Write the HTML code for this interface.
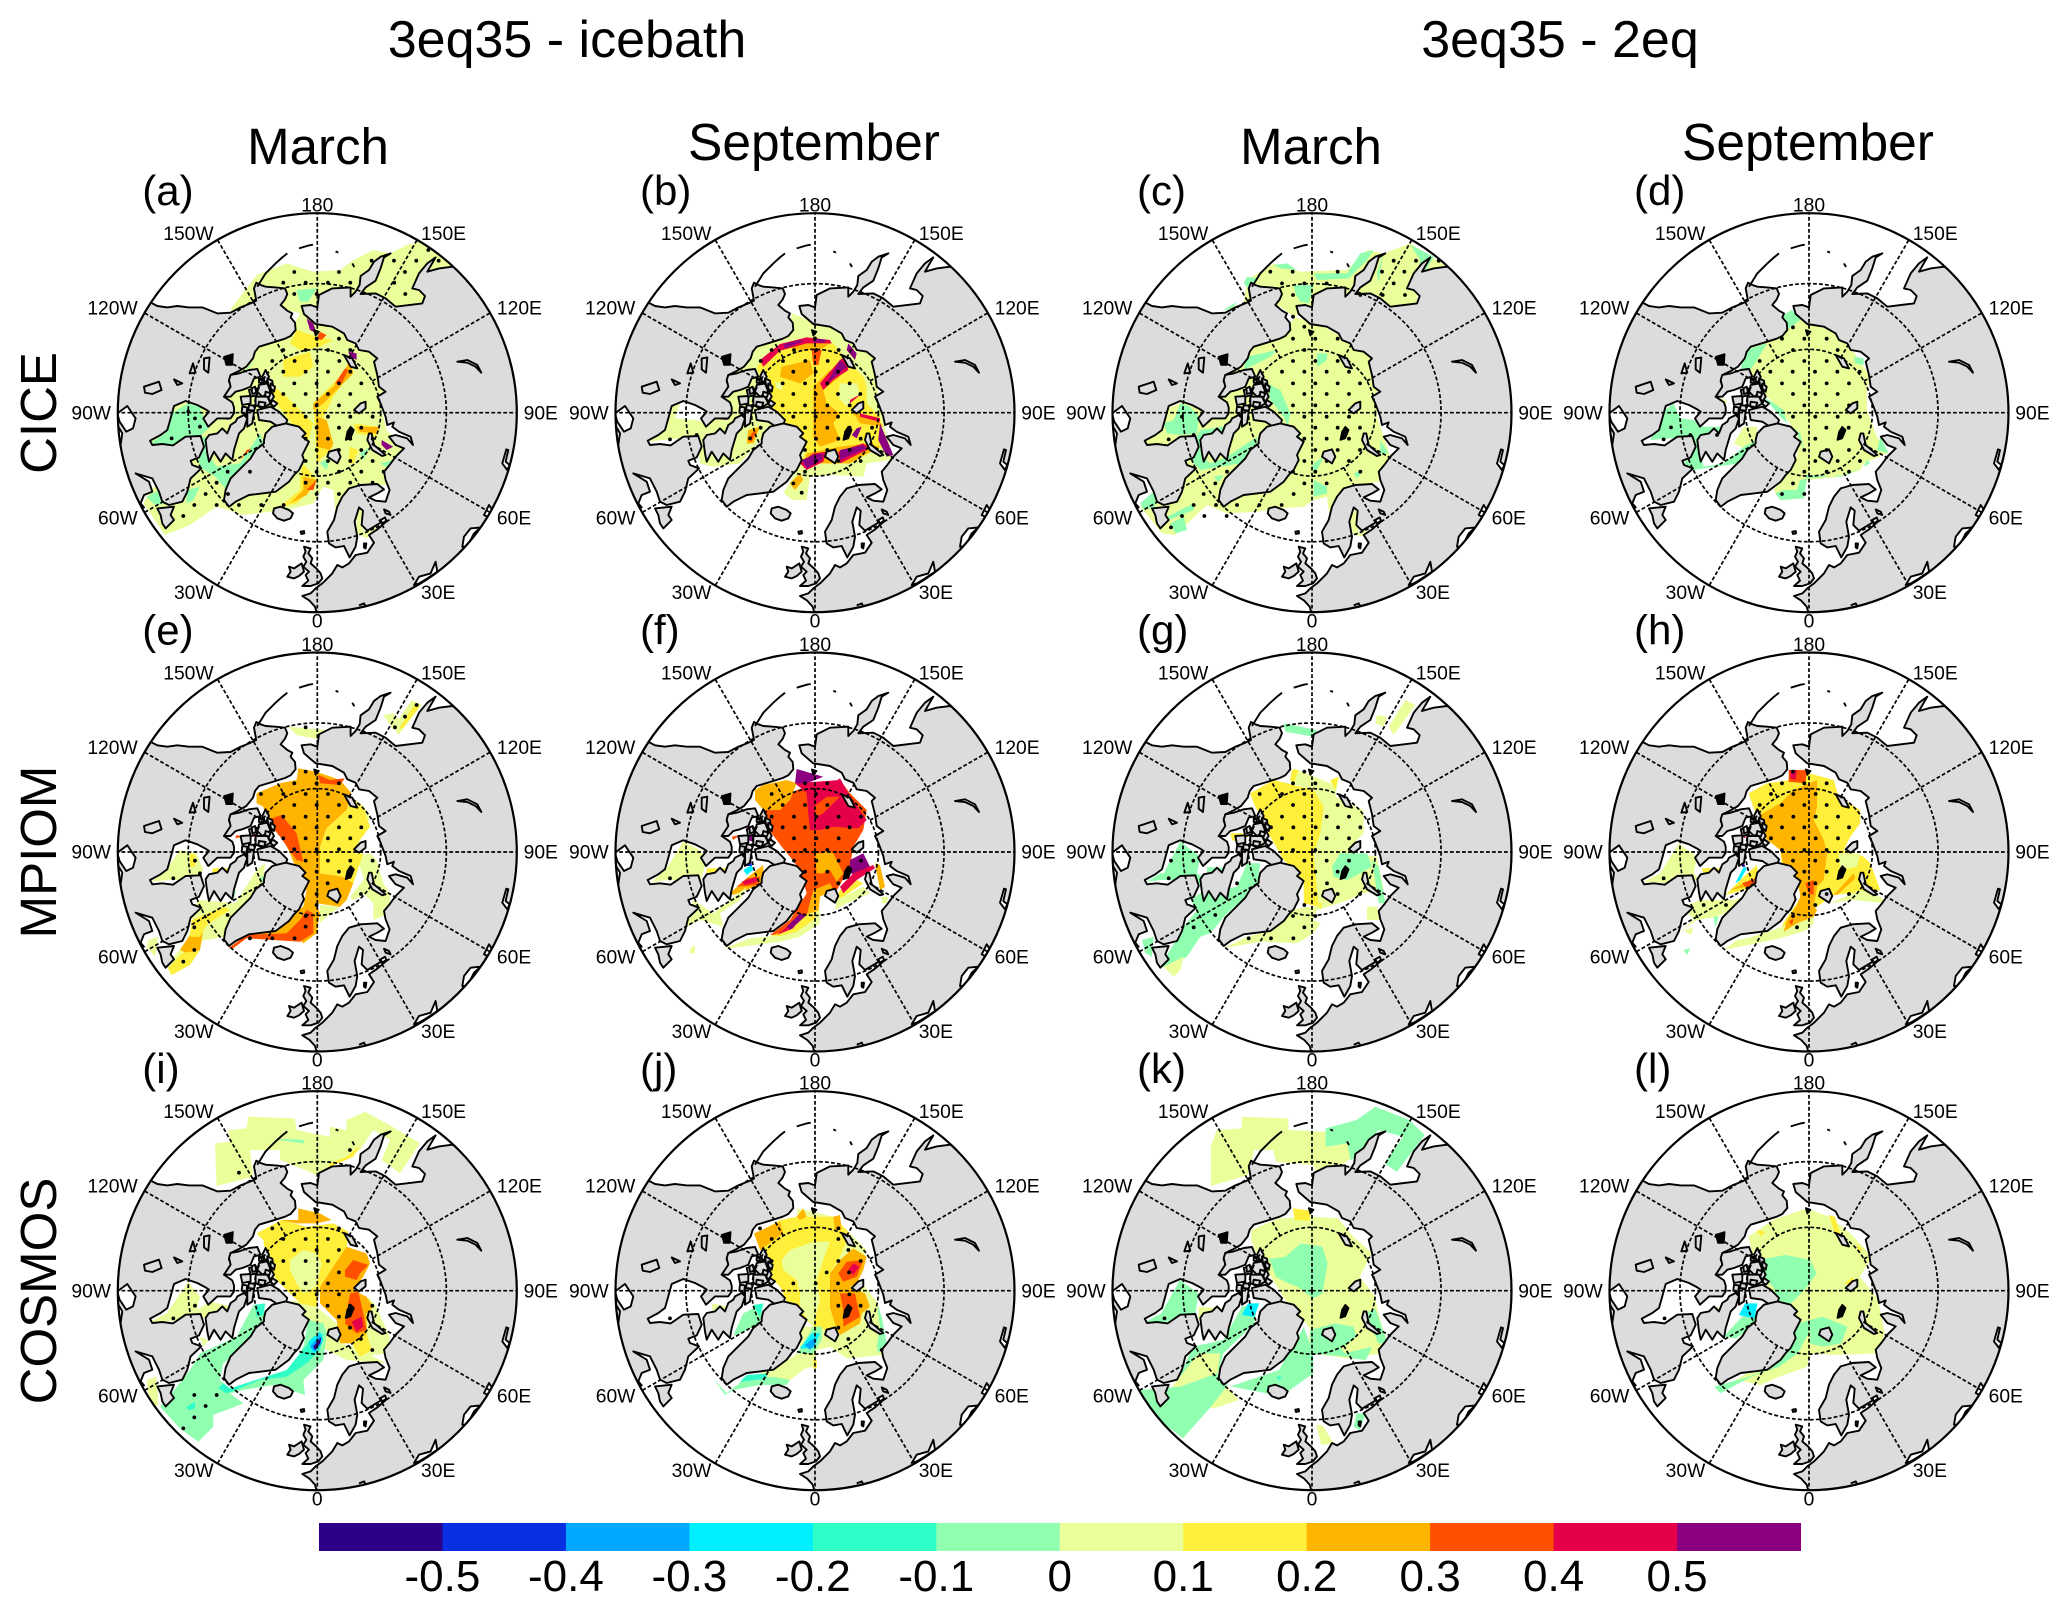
<!DOCTYPE html>
<html lang="en">
<head>
<meta charset="utf-8">
<title>Arctic sea ice differences</title>
<style>
html,body{margin:0;padding:0;background:#fff;width:2067px;height:1611px;overflow:hidden}
svg{display:block;font-family:"Liberation Sans",Arial,sans-serif}
</style>
</head>
<body>
<svg id="figure" xmlns="http://www.w3.org/2000/svg" width="2067" height="1611" viewBox="0 0 2067 1611">
<rect width="2067" height="1611" fill="#fff"/>
<text x="567" y="57" font-size="52" text-anchor="middle">3eq35 - icebath</text>
<text x="1560" y="57" font-size="52" text-anchor="middle">3eq35 - 2eq</text>
<text x="318" y="164" font-size="51" text-anchor="middle">March</text>
<text x="814" y="160" font-size="51.5" text-anchor="middle">September</text>
<text x="1311" y="164" font-size="51" text-anchor="middle">March</text>
<text x="1808" y="160" font-size="51.5" text-anchor="middle">September</text>
<text transform="translate(56,413) rotate(-90)" font-size="51" text-anchor="middle">CICE</text>
<text transform="translate(56,852) rotate(-90)" font-size="51" text-anchor="middle">MPIOM</text>
<text transform="translate(56,1291) rotate(-90)" font-size="51" text-anchor="middle">COSMOS</text>
</svg>
<script>
// ---------- colour scale ----------
const levelColors=['#2b0087','#0a2fe0','#00a8ff','#00f0ff','#2effc8','#90ffb0','#eaff9a','#ffee3a','#ffb400','#ff5000','#e6004a','#8a0080'];
const colorbarTicks=[-0.5,-0.4,-0.3,-0.2,-0.1,0,0.1,0.2,0.3,0.4,0.5];
const colorbarLabels=['-0.5','-0.4','-0.3','-0.2','-0.1','0','0.1','0.2','0.3','0.4','0.5'];
// ---------- map axis ----------
const gridLats=[75,60];
const edgeLat=45;
const tickLons=[0,30,60,90,120,150,180,-150,-120,-90,-60,-30];
const tickLabels=['0','30E','60E','90E','120E','150E','180','150W','120W','90W','60W','30W'];
const panelLetters=['a','b','c','d','e','f','g','h','i','j','k','l'];
// ---------- land, in map units (origin 645,728) ----------
const landAreas=[
[0,395,140,395,165,408,195,412,225,408,260,412,300,412,345,430,385,428,415,412,445,400,462,392,455,355,462,338,475,345,490,350,520,352,548,355,555,372,548,388,535,405,555,422,570,430,565,442,578,458,580,480,565,498,548,506,510,518,470,530,458,545,452,565,432,590,410,603,385,615,380,635,390,655,365,680,390,697,395,712,395,730,385,745,345,745,318,770,303,745,320,725,310,718,285,705,250,693,215,708,205,745,195,780,175,795,143,812,150,825,180,822,212,826,250,800,295,798,305,830,290,862,265,872,270,885,297,895,265,925,255,965,240,995,200,1005,180,995,170,965,150,925,100,910,140,935,150,965,125,975,115,1000,125,1012,0,1012],
[165,1015,215,1010,205,1035,215,1050,190,1075,180,1060,175,1035],
[405,745,425,735,435,745,425,775,410,790,395,840,390,870,370,850,355,875,335,845,320,875,315,850,310,810,320,795,345,790,360,775,375,790,385,765,400,755],
[385,615,410,610,440,600,465,597,475,620,455,625,445,650,420,660,400,665,385,680,365,680,385,650,380,630],
[470,645,495,640,505,665,480,680,465,665],
[415,680,445,678,445,700,420,705],
[460,680,495,680,505,700,480,715,460,705],
[505,660,515,680,505,695,495,680],
[435,720,455,725,450,760,435,770],
[465,720,505,710,530,725,555,750,550,765,525,768,505,755,470,750],
[480,620,490,600,500,620,490,640],
[440,660,462,655,465,675,445,680],
[448,655,458,650,462,668,450,672],
[470,625,485,628,482,640,470,638],
[495,625,510,632,512,650,498,645],
[490,665,505,670,500,682,488,678],
[510,690,525,700,515,710,505,702],
[440,705,460,708,455,722,438,720],
[420,710,435,712,432,735,418,728],
[470,695,490,698,485,712,468,708],
[505,640,518,650,515,665,505,655],
[485,810,490,790,510,770,550,760,590,770,610,790,600,800,620,815,600,855,605,870,590,900,575,915,560,935,540,950,520,965,480,970,440,975,400,995,380,1010,365,990,370,960,385,925,405,905,430,880,445,865,460,840,485,820],
[515,1015,535,1010,560,1020,572,1030,565,1045,545,1052,525,1045,512,1030],
[645,1400,645,1335,638,1310,622,1292,600,1278,625,1270,640,1255,660,1240,690,1210,705,1185,720,1192,740,1180,760,1155,795,1148,815,1118,800,1095,825,1078,855,1052,835,1058,795,1082,778,1065,782,1022,770,1012,757,1055,765,1100,760,1130,742,1162,725,1128,700,1132,680,1120,675,1085,695,1050,705,1010,720,980,740,955,775,945,825,942,845,958,825,970,800,982,820,992,850,995,862,960,850,930,845,905,862,885,880,860,905,835,880,825,860,800,880,795,915,805,932,825,925,800,890,785,870,770,875,757,855,765,850,740,835,700,825,680,850,665,830,650,825,615,815,575,825,565,800,545,770,540,760,520,735,510,725,490,690,470,640,462,605,432,598,408,625,405,645,412,650,375,690,355,745,352,745,380,760,365,772,345,775,318,800,300,815,275,835,260,865,250,845,262,835,295,820,332,790,352,775,372,820,370,850,385,880,410,960,400,968,378,950,360,930,355,950,310,975,280,1000,262,975,305,1010,295,1050,290,1090,310,1300,310,1300,1400],
[605,1130,625,1135,618,1150,630,1165,625,1180,642,1195,655,1210,660,1225,648,1240,625,1248,600,1248,618,1232,610,1215,620,1205,603,1190,612,1175,603,1160,610,1145],
[560,1190,575,1195,598,1180,605,1205,590,1218,575,1225,555,1220,565,1205],
[800,790,795,810,810,840,840,858,850,855,815,825,808,790],
[680,845,705,838,715,860,705,880,690,870,675,860],
[755,720,775,700,790,695,790,715,770,730],
[725,555,750,565,765,595,745,590],
[595,1085,605,1083,606,1090,597,1092],
[785,1120,792,1120,790,1135,785,1132],
[845,1018,860,1025,865,1035,850,1030],
[125,650,170,635,178,660,150,672,128,668],
[215,628,240,640,225,645],
[305,565,322,562,318,608,305,598],
[262,610,272,580,280,608]
];
const darkIslands=[
[745,770,755,780,745,805,730,810,735,785],
[635,480,650,485,640,497],
[365,560,392,552,390,585,372,585]
];
const lakeAreas=[
[75,708,100,745,92,775,72,785,52,755,45,730],
[45,765,60,790,55,825,45,800],
[1065,575,1095,570,1125,585,1137,608,1120,590,1095,578],
[1212,838,1200,880,1215,900,1222,885,1210,875,1218,840],
[1080,1130,1085,1100,1105,1075,1135,1072,1115,1090,1095,1130],
[935,1245,950,1220,985,1210,1000,1175,1005,1205,975,1225,950,1240],
[1145,1035,1160,1005,1170,1020,1155,1040],
[835,1050,848,1042,852,1052,840,1060]
];
const coastLines=[
[465,350,490,310,520,280,540,262,555,250],
[590,235,620,226,632,224],
[700,244,708,248],
[750,280,756,291],
[770,1306,785,1300,792,1312]
];
// ---------- shaded differences per panel: [colour level, outline in map units]; level -1 = no data ----------
const fieldsA=[
[6,[600,430,700,460,770,530,840,560,860,640,840,700,860,780,910,830,880,880,865,945,780,945,725,975,708,1050,700,960,670,950,640,1000,560,1020,430,1035,350,1010,270,1065,195,1095,130,1000,150,960,260,880,290,840,140,820,200,695,320,700,360,720,370,650,400,590,470,530,560,500]],
[6,[390,420,470,315,560,280,640,305,720,300,760,270,820,240,870,250,920,225,960,215,1060,290,980,300,980,420,800,400,640,440,560,420,440,430]],
[6,[770,1015,790,1020,790,1085,830,1070,840,1080,800,1105,770,1090]],
[6,[1085,1130,1095,1075,1140,1070,1110,1120]],
[5,[590,360,650,355,625,395,600,395]],
[5,[265,700,300,710,310,740,330,770,300,800,210,825,150,820,195,790,205,735]],
[5,[310,800,340,800,330,860,350,890,420,880,440,850,480,790,490,820,440,870,380,960,345,920,300,890,290,830]],
[5,[260,960,300,950,280,990,260,1000]],
[5,[140,980,180,960,210,1000,165,1005]],
[5,[470,570,440,600,420,620,445,590]],
[5,[660,880,690,860,680,900]],
[5,[780,850,810,830,790,870]],
[5,[840,880,880,870,860,890]],
[7,[550,570,630,545,640,590,600,620,550,620]],
[7,[510,640,560,680,640,760,620,830,575,760,530,700]],
[7,[640,700,680,660,740,600,760,560,745,620,700,680,670,740,700,830,650,880,645,780]],
[7,[590,480,650,500,700,510,660,530,600,540,570,520]],
[7,[760,760,830,770,830,800,770,790]],
[7,[750,830,775,840,760,880,745,880]],
[7,[610,880,650,930,620,970,590,1000,540,1010,600,960,600,920]],
[8,[640,700,700,650,735,600,750,570,760,610,700,670,670,700,640,720]],
[8,[650,740,680,750,700,820,690,840,650,830]],
[8,[610,920,650,930,620,975,570,1000,610,960]],
[8,[770,770,840,770,830,790,780,785]],
[9,[705,640,735,595,745,600,725,640]],
[9,[620,960,650,930,640,960]],
[9,[440,840,455,835,420,870]],
[9,[660,485,680,495,665,510,650,505]],
[10,[575,770,600,785,610,795,585,785]],
[11,[620,445,640,460,650,490,630,480]],
[11,[745,545,770,550,770,570,750,560]],
[11,[845,810,880,830,860,840,845,825]],
[11,[365,740,395,740,385,750,365,745]]
];
const fieldsB=[
[6,[575,430,640,455,700,470,760,520,830,570,830,640,850,760,880,860,870,870,800,880,790,920,700,915,630,920,620,990,580,990,550,970,590,900,600,800,500,770,490,800,420,880,340,890,300,880,290,800,140,815,200,710,240,695,260,740,320,760,370,730,370,660,410,600,460,530,570,490]],
[-1,[225,745,240,700,280,715,285,750]],
[7,[470,590,500,560,640,500,700,520,740,570,790,620,800,650,800,700,840,740,850,830,800,850,720,880,640,880,600,880,620,840,600,790,560,760,510,710,490,640]],
[6,[720,640,770,640,780,670,740,710,715,680]],
[6,[525,635,550,640,545,660,530,655]],
[8,[545,590,630,570,640,610,600,640,540,620]],
[8,[640,650,690,600,720,620,670,660,680,700,720,730,700,760,720,810,660,830,640,800,640,740,640,700]],
[8,[560,530,640,510,690,520,660,540,600,540]],
[8,[620,850,720,830,800,820,840,830,750,880,650,880,610,890]],
[8,[760,730,830,740,850,770,780,760]],
[8,[570,940,600,910,610,930,585,960]],
[8,[445,780,480,770,460,820,440,820]],
[10,[480,570,540,522,620,502,690,510,695,520,620,520,540,542,490,590]],
[11,[550,522,600,510,610,514,555,535]],
[11,[640,504,680,510,670,518,640,516]],
[9,[635,540,665,540,655,585,640,585]],
[10,[660,640,720,570,735,560,745,600,700,630,670,660]],
[11,[680,640,720,570,740,590,700,625]],
[11,[745,520,770,550,765,570,740,540]],
[10,[600,880,640,850,680,845,670,875,620,900]],
[11,[605,870,640,855,670,850,665,870,620,895]],
[10,[715,845,790,820,810,835,740,870,720,880]],
[11,[720,840,790,825,800,835,740,860,720,870]],
[11,[840,760,880,855,860,860,835,810]],
[11,[770,775,785,770,770,805,755,795]],
[10,[780,730,840,745,840,755,780,740]],
[10,[750,690,785,670,750,700]],
[9,[455,790,470,780,455,815,445,810]],
[11,[360,740,390,745,380,750,362,748]],
[3,[440,680,450,680,445,700]]
];
const fieldsC=[
[6,[585,440,680,475,740,510,820,570,830,650,830,740,860,830,870,860,860,930,780,945,715,980,690,1060,680,980,640,990,610,1010,540,1015,470,1025,380,1030,320,1005,225,1095,185,1090,120,1010,150,980,240,950,260,880,270,840,130,820,190,720,250,695,310,720,350,730,360,650,380,610,440,540,540,500]],
[6,[370,420,430,400,440,330,520,280,600,305,740,300,800,240,850,250,930,220,1040,290,950,300,950,400,860,410,740,380,640,410,580,440,540,410,480,400]],
[6,[745,1050,770,1010,775,1090,800,1080,800,1100,760,1095]],
[6,[1070,1130,1090,1075,1115,1075,1075,1130]],
[5,[580,345,640,345,625,400,600,395,585,370]],
[5,[430,340,440,320,470,325,450,360]],
[5,[520,285,560,280,590,300,540,295]],
[5,[640,310,740,310,780,250,820,240,800,270,745,325,650,330]],
[5,[850,250,840,300,835,340,830,310]],
[5,[930,225,1000,260,960,330,950,320,960,270]],
[5,[370,420,410,395,400,410,380,420]],
[5,[440,560,530,540,510,560,450,590,430,600]],
[5,[500,640,540,660,570,730,560,780,600,800,605,830,570,790,550,740,510,690]],
[5,[650,550,680,550,680,570,650,590]],
[5,[640,880,670,860,650,900,630,900]],
[5,[640,930,680,950,680,970,640,980]],
[5,[760,910,790,900,770,925]],
[5,[840,810,865,850,840,850]],
[5,[240,700,270,710,295,740,290,790,240,795,200,790,190,760,220,750]],
[5,[280,810,300,780,370,770,380,800,330,800,300,850,330,880,380,860,470,800,470,830,420,880,300,900,270,870]],
[5,[340,920,370,915,355,935]],
[5,[120,1000,165,960,165,1010,130,1020]],
[5,[210,1060,250,1040,260,1080,225,1090]],
[5,[280,1000,200,1040,205,1050,280,1020]],
[10,[428,730,434,730,432,738]]
];
const fieldsD=[
[6,[570,420,620,460,720,490,770,560,810,620,800,660,800,720,830,800,860,850,790,880,780,900,720,920,620,930,610,985,540,990,520,960,590,860,590,790,540,720,500,680,450,610,430,540,520,490]],
[6,[400,820,430,770,470,770,470,810,440,840]],
[6,[340,680,380,690,360,740,340,745]],
[5,[540,440,575,420,600,450,560,480]],
[5,[435,540,500,520,470,570,450,600,420,600]],
[5,[490,680,550,720,560,760,600,790,610,840,590,790,540,740]],
[5,[610,915,720,920,790,890,800,870,810,880,740,915,620,925]],
[5,[525,970,540,990,610,985,620,925,600,930,590,960,550,960]],
[5,[840,800,865,850,830,840]],
[5,[220,700,240,745,280,750,300,770,340,770,370,770,360,800,330,800,300,850,310,890,370,880,430,830,470,810,460,840,420,880,310,895,280,900,250,880,290,830,270,800,150,810,170,770,180,730]],
[5,[760,560,790,565,790,585,765,580]]
];
const fieldsE=[
[6,[770,710,810,700,830,720,850,790,870,820,870,880,820,900,820,850,790,820,790,770]],
[6,[790,555,810,590,800,620,780,580]],
[6,[750,830,790,780,800,820,760,840]],
[6,[660,855,720,860,680,890,660,910]],
[8,[595,445,650,455,720,480,755,520,740,570,680,625,660,680,660,760,730,770,760,790,740,840,720,860,650,850,660,880,650,940,610,970,600,960,560,960,440,950,610,860,620,810,590,750,570,700,540,640,500,600,490,560,470,550,470,520,540,490,590,480]],
[7,[680,625,740,570,755,530,790,560,810,620,780,660,760,700,790,700,780,730,760,790,730,770,660,760,660,680]],
[9,[500,600,545,585,590,640,610,725,590,720,575,700,540,650]],
[9,[620,870,640,880,640,940,600,965,440,955,400,985,385,985,440,945,560,940,600,900]],
[9,[655,465,690,480,735,475,720,495,660,490]],
[10,[455,620,465,620,470,650,455,650]],
[9,[410,645,430,650,405,655]],
[6,[400,860,470,750,495,730,490,790,440,860,410,870]],
[5,[370,900,385,895,370,915]],
[5,[390,830,410,810,400,840]],
[5,[480,770,495,770,490,795]],
[6,[280,910,320,880,400,860,420,870,375,950,320,960,310,960,265,1030,215,1065,200,1040,260,960]],
[6,[265,870,300,840,410,850,450,830,430,870,375,905,370,940,310,960]],
[8,[240,990,280,930,310,930,300,990,260,1000]],
[7,[205,1045,245,1000,300,990,270,1035,215,1065]],
[7,[275,900,370,860,390,870,320,915,300,950,270,950]],
[6,[240,690,290,700,310,750,290,780,210,780,155,785,205,740]],
[7,[270,700,285,705,285,740,270,740]],
[7,[340,745,395,745,370,760,335,760]],
[6,[145,960,175,950,165,1010,140,980]],
[6,[565,320,680,330,665,360,590,345]],
[6,[850,285,880,280,900,300,880,330]],
[6,[880,320,935,240,965,255,895,345]],
[7,[900,320,945,250,960,258,905,330]]
];
const fieldsF=[
[9,[480,580,590,510,720,480,750,520,800,570,790,630,760,680,750,740,700,830,680,800,640,860,650,880,640,900,600,910,540,945,510,945,570,900,620,820,600,750,570,710,545,680,500,620]],
[8,[465,510,490,495,560,480,590,490,570,540,540,570,490,570,465,540]],
[8,[645,700,670,700,680,690,700,700,730,760,710,785,690,750,670,760,650,760]],
[8,[640,810,690,790,700,810,660,830,655,880,620,885]],
[10,[585,490,720,480,745,520,800,600,775,625,700,620,660,630,630,630,625,580,620,520]],
[9,[640,560,680,530,720,530,670,580,650,590]],
[11,[590,447,670,470,620,490,585,490]],
[10,[700,490,720,475,745,520,720,520]],
[11,[750,720,790,700,810,740,770,765,750,760]],
[6,[705,870,710,840,790,800,810,820,740,850]],
[7,[705,840,720,810,770,780,790,790,730,830]],
[10,[720,800,760,760,820,735,825,745,770,780,730,820]],
[8,[825,730,840,735,855,800,840,810]],
[6,[845,830,865,830,860,850,845,850]],
[6,[505,950,550,935,600,890,660,870,660,910,600,950,540,965,390,985,375,985,450,955]],
[7,[515,948,560,930,610,885,650,880,640,900,590,935,540,948]],
[10,[530,945,600,890,580,925]],
[11,[560,920,600,880,620,885,570,930]],
[8,[390,820,445,770,490,735,490,790,400,825]],
[9,[410,800,440,775,480,770,475,795]],
[10,[425,785,470,770,470,785,435,795]],
[3,[430,750,455,735,460,750,440,765]],
[1,[440,738,452,720,456,738]],
[11,[440,615,460,620,465,660,510,640,520,670,470,670,445,660]],
[9,[395,650,420,645,400,660]],
[6,[200,745,250,665,300,690,320,720,300,790,210,780,155,785]],
[7,[320,745,385,745,370,770,320,780]],
[6,[260,920,280,840,340,880,440,800,420,840,360,880,370,920,300,900]],
[6,[270,985,285,975,285,1000,270,1000]]
];
const fieldsG=[
[6,[580,445,690,490,715,470,705,530,790,570,790,640,760,670,760,700,830,710,850,810,790,820,730,845,650,870,640,900,660,910,640,940,590,970,480,965,370,985,440,950,520,930,580,870,620,860,650,860,640,700,670,560,640,510,570,490,570,470]],
[7,[450,520,520,480,560,490,640,510,670,560,660,640,640,700,655,860,610,850,610,790,590,760,550,720,510,650,480,590,460,550]],
[7,[575,450,595,450,580,490,570,480]],
[7,[690,480,715,470,705,510]],
[7,[655,850,665,850,660,870]],
[5,[695,740,720,700,800,700,815,740,760,770,740,780,700,770]],
[5,[815,720,835,740,855,850,835,850]],
[6,[800,860,830,860,840,900,800,900]],
[5,[190,760,240,665,300,710,290,760,310,770,300,800,270,780,180,780,140,785,180,760]],
[5,[320,740,380,745,350,770,320,760]],
[5,[270,840,300,820,410,800,440,730,480,730,470,800,380,880,330,940,300,950,260,1010,200,1040,180,1040,250,920,290,870]],
[6,[190,1040,250,1010,240,1050,220,1070]],
[5,[125,960,160,950,155,1010,135,1000]],
[5,[550,310,650,330,640,350,555,335]],
[6,[830,285,860,290,850,320,825,310]],
[6,[865,320,915,240,945,255,880,345]],
[8,[435,620,445,650,430,655]],
[7,[390,640,430,640,420,670,395,660]],
[8,[470,660,500,655,490,680]]
];
const fieldsH=[
[7,[445,520,500,490,570,480,625,460,700,480,715,530,780,570,780,610,750,650,730,690,790,710,810,730,840,810,700,825,650,860,600,880,550,935,530,945,555,900,610,820,590,770,545,740,540,690,490,650,470,590,455,550]],
[8,[470,590,540,550,580,510,650,480,650,560,640,600,670,660,680,700,670,780,650,800,640,860,610,880,575,890,600,830,590,770,550,740,540,690,490,650]],
[6,[715,700,780,700,770,740,720,750]],
[6,[690,850,780,810,840,830,855,850,760,840]],
[6,[440,955,520,930,640,880,640,910,620,930,540,955,370,990,410,960]],
[8,[700,825,760,760,765,775,710,825]],
[8,[560,900,610,825,650,870,640,890,590,910,550,935]],
[9,[615,790,640,780,640,825,625,820]],
[9,[565,905,580,895,575,915]],
[9,[565,450,620,450,615,490,565,485]],
[10,[570,450,590,450,585,480,570,475]],
[7,[375,825,430,770,470,735,475,790,430,810]],
[8,[390,810,430,790,470,775,465,795]],
[9,[425,790,465,775,460,800,435,800]],
[3,[405,790,430,740,440,745,420,780]],
[0,[425,715,435,740,425,740]],
[10,[425,625,440,625,435,655,425,650]],
[9,[460,640,490,650,480,680,455,670]],
[6,[180,760,235,670,290,710,280,760,300,780,210,790,130,785]],
[7,[305,745,370,745,340,770,310,765]],
[6,[250,860,300,840,400,840,430,830,420,860,350,890,290,900,240,935,280,900]],
[5,[340,890,355,890,345,925]],
[6,[250,930,280,925,270,945]],
[5,[250,990,270,985,260,1005]]
];
const fieldsI=[
[6,[345,250,390,245,385,210,440,205,445,170,585,175,590,210,690,230,690,200,740,210,740,180,795,155,860,190,960,250,900,340,845,300,870,240,820,210,780,270,740,295,690,320,670,360,640,340,540,300,540,270,450,270,460,350,350,378]],
[5,[520,235,615,240,610,250,540,240]],
[7,[670,360,690,310,740,290,780,255,760,290,690,320]],
[6,[570,720,650,740,720,800,720,850,760,860,860,910,740,900,660,860,640,800]],
[6,[805,710,830,740,860,810,870,830,860,880,750,895,790,830]],
[7,[490,540,470,520,545,480,620,500,700,490,745,515,740,570,700,620,660,680,650,740,600,730,570,700,530,660,500,610]],
[6,[570,600,610,570,650,580,665,610,650,680,610,700,590,670,570,630]],
[8,[595,445,660,460,695,480,650,490,590,490,540,480,595,480]],
[8,[660,680,700,620,740,560,800,580,810,610,790,650,760,690,800,710,820,740,800,760,800,850,720,850,710,780,660,730]],
[7,[755,850,800,820,815,870,780,890]],
[9,[735,630,760,600,805,615,780,640,770,660,735,650]],
[9,[750,700,775,695,790,760,800,810,770,820,735,790]],
[10,[755,785,785,770,790,800,770,815]],
[5,[180,1040,215,1000,270,930,300,880,410,830,460,735,495,730,490,790,430,860,370,910,360,960,390,985,570,930,610,860,625,780,670,790,680,820,670,900,640,930,610,960,615,1005,570,990,520,975,430,990,390,1000,430,1030,340,1065,340,1100,295,1145,240,1105]],
[4,[370,970,390,985,560,930,600,880,640,830,670,820,660,870,620,910,560,950,480,960,420,985,380,1000,355,985]],
[3,[625,845,660,815,670,840,640,880]],
[2,[630,860,660,825,665,850,645,875]],
[0,[640,860,665,830,660,850,645,870]],
[4,[260,1040,285,1025,285,1045,265,1050]],
[4,[465,735,495,730,490,765,470,770]],
[6,[140,960,170,950,175,1035,165,1040,145,1000]],
[6,[200,760,265,665,300,710,290,750,330,725,400,740,390,770,330,770,290,780,150,785]],
[6,[300,830,325,840,310,860]]
];
const fieldsJ=[
[6,[590,445,640,455,700,470,750,520,800,570,770,650,810,700,835,730,855,850,850,885,740,895,690,860,650,870,640,920,600,930,570,960,520,970,480,940,600,880,600,800,640,800,700,810,650,690,620,700]],
[7,[490,600,470,520,540,480,590,470,700,470,750,520,720,590,690,640,700,680,690,750,720,820,680,810,640,800,620,780,600,760,570,745,540,680,500,640]],
[6,[545,600,570,570,640,545,690,545,670,600,650,660,660,720,640,800,600,750,600,700,590,660,550,630]],
[8,[462,520,540,485,550,520,515,545,480,570]],
[8,[590,470,610,445,620,470,600,480]],
[8,[700,470,720,465,725,510,705,510]],
[8,[570,730,590,735,585,750,570,745]],
[8,[690,640,720,600,760,565,800,590,790,630,770,670,750,680,795,700,810,740,785,760,780,790,720,825,705,790,690,745,690,690]],
[9,[715,640,740,605,790,600,770,650,730,665]],
[10,[745,630,760,610,778,620,760,645]],
[9,[720,700,765,700,780,770,730,800,730,750]],
[5,[400,825,430,760,490,730,480,790,410,825]],
[4,[460,735,490,730,480,770]],
[5,[340,955,380,1000,430,960,520,950,570,960,560,975,480,975,400,990,375,1005]],
[4,[440,945,500,940,500,955,420,965]],
[6,[510,945,560,910,590,880,620,890,610,930,570,960]],
[5,[590,880,640,800,665,800,665,840,640,880,600,880]],
[3,[600,865,635,820,660,820,640,865]],
[2,[615,855,640,835,650,845,630,870]],
[5,[830,730,845,770,860,850,835,880,830,860,840,800]],
[6,[335,730,385,740,380,770,340,760]],
[7,[640,900,650,900,650,925,640,925]]
];
const fieldsK=[
[6,[180,255,190,210,230,205,230,170,305,175,305,210,365,215,365,260,400,250,410,290,355,360,345,315,285,305,280,270,250,270,240,345,180,378]],
[5,[365,205,415,180,445,140,500,180,525,225,480,335,460,310,490,230,450,210,420,290,405,300,400,250,365,260]],
[6,[245,510,290,475,345,470,385,475,410,530,440,580,420,650,445,710,450,760,465,850,455,880,400,895,345,880,335,880,340,805,320,760,300,720,280,660,255,590,245,540]],
[7,[312,445,342,452,338,482,315,480]],
[5,[300,590,325,550,360,560,368,610,360,700,345,715,320,680,305,670,285,650,275,600,265,600]],
[5,[340,810,380,790,410,800,415,830,390,865,400,890,340,880]],
[5,[430,760,445,745,465,850,450,850]],
[5,[395,880,440,860,430,900,405,895]],
[5,[130,950,150,860,200,840,230,740,255,730,250,790,200,880,190,950,210,980,290,930,330,800,345,880,345,940,300,1000,270,1000]],
[6,[105,1010,160,880,195,880,190,950,225,1020,185,1045]],
[5,[65,990,130,980,190,940,205,980,180,1040,135,1135,100,1085]],
[5,[100,760,130,660,160,700,155,760,115,785,75,785]],
[6,[160,740,210,745,205,760,160,780]],
[3,[230,765,240,730,258,730,250,770]],
[6,[350,1095,360,1095,378,1150,358,1155]],
[5,[415,1060,430,1060,420,1110,410,1100]],
[4,[285,950,295,950,290,960]]
];
const fieldsL=[
[6,[1050,530,1090,480,1145,445,1180,470,1215,520,1250,590,1230,650,1260,720,1270,820,1260,880,1190,885,1150,880,1145,920,1100,950,1070,975,1030,960,1100,880,1130,800,1100,740,1080,690,1060,600]],
[7,[1065,510,1078,515,1070,530]],
[7,[1180,465,1190,470,1200,530,1190,520]],
[7,[1205,670,1220,650,1215,675]],
[7,[1225,550,1235,570,1228,575]],
[5,[1065,600,1110,585,1150,600,1160,640,1145,680,1125,720,1105,750,1090,680,1070,640]],
[5,[1130,790,1170,770,1210,800,1200,850,1170,860,1150,850,1150,810,1130,880,1100,920,1060,945,1005,1000,995,980,1050,950,1090,920]],
[5,[1010,830,1040,770,1060,735,1065,790,1030,835]],
[3,[1035,765,1045,730,1065,730,1060,775]],
[6,[985,750,1005,740,1005,770,985,770]]
];
// ---------- significance stippling per panel: [row, first column, last column] on a 67-unit lattice ----------
const dotsA=[[306,583,583],[306,717,717],[272,815,1015],[240,985,985],[306,915,915],[338,550,750],[338,883,883],[372,583,650],[372,916,916],[506,650,717],[540,550,750],[573,517,717],[605,550,750],[640,583,783],[672,550,750],[706,583,717],[740,617,817],[773,650,783],[806,617,817],[840,650,783],[873,617,817],[905,650,850],[905,383,450],[938,617,850],[972,650,717],[1005,417,550],[972,317,383],[938,350,350],[1005,283,350],[1038,250,250],[725,265,265],[745,285,285],[805,215,215],[770,300,300]];
const dotsB=[[505,645,680],[540,515,715],[573,482,680],[605,580,715],[640,548,747],[672,580,780],[706,548,747],[740,580,715],[773,615,815],[806,648,780],[840,615,747],[873,648,780],[905,615,615],[940,580,580],[968,605,605],[808,210,210],[795,290,290],[805,450,450],[773,482,482]];
const dotsC=[[305,510,578],[305,712,712],[340,545,680],[340,880,880],[375,578,578],[375,780,913],[272,880,945],[272,1015,1015],[305,845,912],[440,578,578],[470,612,612],[506,578,712],[540,612,612],[573,578,712],[605,545,747],[640,578,778],[672,612,747],[706,578,712],[740,612,747],[773,645,778],[806,612,747],[840,645,778],[873,612,747],[905,578,645],[905,780,780],[940,612,680],[972,580,580],[1005,410,545],[972,310,310],[940,345,345],[905,380,380],[1005,280,345],[1038,245,380],[1072,212,212],[740,245,245],[808,205,205],[795,280,280]];
const dotsD=[[472,578,578],[506,545,680],[540,578,578],[540,712,712],[573,478,678],[605,510,778],[640,545,745],[672,578,712],[706,612,745],[740,578,778],[773,678,745],[806,645,645],[840,612,745],[873,645,778],[905,612,745],[940,578,578],[972,545,612],[772,212,212],[795,270,270],[808,190,190],[795,350,350]];
const dotsE=[[322,617,617],[322,885,885],[290,915,915],[255,950,950],[455,617,617],[490,583,717],[522,483,683],[555,583,717],[590,550,750],[622,583,783],[655,550,750],[688,583,717],[722,617,817],[755,650,717],[790,683,683],[822,650,650],[822,783,783],[855,650,650],[888,617,617],[920,617,617],[955,450,583],[885,383,383],[922,283,283],[990,283,283],[1025,250,250],[760,300,300],[775,220,220],[722,285,285]];
const dotsF=[[490,615,682],[522,515,515],[522,648,648],[555,548,682],[590,515,780],[622,548,748],[655,582,715],[690,615,682],[722,582,780],[755,615,682],[790,648,715],[775,210,210]];
const dotsG=[[455,612,612],[490,578,645],[522,478,612],[555,578,578],[555,712,712],[590,545,745],[622,512,778],[655,545,745],[690,578,645],[722,612,745],[755,645,712],[790,680,680],[822,645,778],[855,612,612],[888,578,645],[922,612,612],[955,445,578],[885,345,345],[922,280,280],[722,212,280],[775,205,205],[790,410,410]];
const dotsH=[[455,578,578],[490,545,678],[522,512,645],[555,478,678],[590,512,712],[622,545,745],[655,512,712],[690,545,678],[722,578,712],[755,612,678],[790,645,645],[822,612,745],[855,645,645],[888,578,578],[922,590,590],[775,190,190],[855,310,378]];
const dotsI=[[270,750,750],[338,417,417],[455,650,650],[505,517,517],[505,717,717],[537,550,683],[570,583,717],[603,550,683],[637,717,717],[670,550,683],[703,583,717],[737,683,817],[770,717,717],[803,750,750],[837,783,783],[870,817,817],[1005,283,350],[1038,317,317],[1072,283,283],[1105,250,250],[775,220,220],[737,285,285]];
const dotsJ=[[505,480,480],[505,715,715],[537,515,515],[537,715,715],[570,745,745],[603,515,515],[603,715,780],[637,680,747],[670,580,715],[703,748,748],[737,715,780],[803,715,715],[837,745,745],[870,845,845],[450,640,640],[775,210,210]];
const dotsK=[[775,105,105]];
const dotsL=[[775,915,915]];
// ---------- panel geometry ----------
const columnCenters=[317.3,815,1312,1809];
const rowCenters=[412.7,852,1290.7];
const panelFields=[fieldsA,fieldsB,fieldsC,fieldsD,fieldsE,fieldsF,fieldsG,fieldsH,fieldsI,fieldsJ,fieldsK,fieldsL];
const panelDots=[dotsA,dotsB,dotsC,dotsD,dotsE,dotsF,dotsG,dotsH,dotsI,dotsJ,dotsK,dotsL];
const panelOrigins=[[652,728,1],[645,728,1],[635,728,1],[626,728,1],[652,696,1],[645,696,1],[635,696,1],[626,696,1],[652,692,1],[645,692,1],[343,692,1.86],[1148,692,1.86]];
const landOrigin=[645,728,1];

const SVGNS='http://www.w3.org/2000/svg';
const figure=document.getElementById('figure');
const UNIT=1/3, RADIUS_UNITS=598, STEREO=1445;
const latRadius=lat=>STEREO*Math.tan((90-lat)/2*Math.PI/180);
const make=(tag,parent)=>{const e=document.createElementNS(SVGNS,tag);parent.appendChild(e);return e;};
const project=(x,y,o,cx,cy)=>[cx+(x-o[0])*o[2]*UNIT,cy+(y-o[1])*UNIT];
const pointsOf=(flat,o,cx,cy)=>{const out=[];for(let i=0;i<flat.length;i+=2){const p=project(flat[i],flat[i+1],o,cx,cy);out.push(p[0].toFixed(1)+','+p[1].toFixed(1));}return out.join(' ');};
const lonXY=(lon,r,cx,cy)=>{const a=lon*Math.PI/180;return [cx+Math.sin(a)*r*UNIT,cy+Math.cos(a)*r*UNIT];};

panelLetters.forEach((letter,i)=>{
  const cx=columnCenters[i%4], cy=rowCenters[Math.floor(i/4)], R=latRadius(edgeLat)*UNIT;
  const o=panelOrigins[i];
  const g=make('g',figure);
  
  
  const defs=make('defs',g);
  const clip=make('clipPath',defs);
  clip.setAttribute('id','clip-'+letter);
  const clipC=make('circle',clip);
  clipC.setAttribute('cx',cx);clipC.setAttribute('cy',cy);clipC.setAttribute('r',R);
  const clipped=make('g',g);
  clipped.setAttribute('clip-path','url(#clip-'+letter+')');
  
  
  panelFields[i].forEach(f=>{
    const p=make('polygon',clipped);
    
    
    p.setAttribute('points',pointsOf(f[1],o,cx,cy));
    p.setAttribute('fill',f[0]<0?'#fff':levelColors[f[0]]);
  });
  landAreas.forEach(a=>{
    const p=make('polygon',clipped);
    
    
    p.setAttribute('points',pointsOf(a,landOrigin,cx,cy));
    p.setAttribute('fill','#dcdcdc');
    p.setAttribute('stroke','#000');
    p.setAttribute('stroke-width','1.9');
    p.setAttribute('stroke-linejoin','round');
  });
  darkIslands.forEach(a=>{
    const p=make('polygon',clipped);
    
    
    p.setAttribute('points',pointsOf(a,landOrigin,cx,cy));
    p.setAttribute('fill','#000');
    p.setAttribute('stroke','#000');
    p.setAttribute('stroke-width','1.5');
    p.setAttribute('stroke-linejoin','round');
  });
  lakeAreas.forEach(a=>{
    const p=make('polygon',clipped);
    
    
    p.setAttribute('points',pointsOf(a,landOrigin,cx,cy));
    p.setAttribute('fill','#fff');
    p.setAttribute('stroke','#000');
    p.setAttribute('stroke-width','1.9');
    p.setAttribute('stroke-linejoin','round');
  });
  coastLines.forEach(a=>{
    const p=make('polyline',clipped);
    
    
    p.setAttribute('points',pointsOf(a,landOrigin,cx,cy));
    p.setAttribute('fill','none');
    p.setAttribute('stroke','#000');
    p.setAttribute('stroke-width','1.9');
  });
  gridLats.forEach(lat=>{
    const c=make('circle',clipped);
    
    
    c.setAttribute('cx',cx);c.setAttribute('cy',cy);c.setAttribute('r',latRadius(lat)*UNIT);
    c.setAttribute('fill','none');c.setAttribute('stroke','#000');c.setAttribute('stroke-width','1.7');c.setAttribute('stroke-dasharray','3.8 2.2');
  });
  tickLons.forEach(lon=>{
    const inner=(lon%90===0)?0:latRadius(gridLats[0]);
    const a=lonXY(lon,inner,cx,cy), b=lonXY(lon,RADIUS_UNITS,cx,cy);
    const l=make('line',clipped);
    
    
    l.setAttribute('x1',a[0]);l.setAttribute('y1',a[1]);l.setAttribute('x2',b[0]);l.setAttribute('y2',b[1]);
    l.setAttribute('stroke','#000');l.setAttribute('stroke-width','1.7');l.setAttribute('stroke-dasharray','3.8 2.2');
  });
  panelDots[i].forEach(row=>{
    for(let x=row[1];x<=row[2]+5;x+=67){
      const p=project(x,row[0],o,cx,cy);
      const d=make('circle',clipped);
      
      
      d.setAttribute('cx',p[0]);d.setAttribute('cy',p[1]);d.setAttribute('r','1.9');
      d.setAttribute('fill','#000');
    }
  });
  const ring=make('circle',g);
  
  
  ring.setAttribute('cx',cx);ring.setAttribute('cy',cy);ring.setAttribute('r',R);
  ring.setAttribute('fill','none');ring.setAttribute('stroke','#000');ring.setAttribute('stroke-width','2.2');
  tickLons.forEach((lon,k)=>{
    const a=lon*Math.PI/180, s=Math.sin(a), c=Math.cos(a), absS=Math.abs(s);
    const t=make('text',g);
    
    
    t.setAttribute('font-size','19.3');
    let x=s*RADIUS_UNITS, y;
    if(absS<0.01){
      t.setAttribute('text-anchor','middle');
      y=c>0?644:-603;
    }else{
      x+=Math.sign(s)*(absS<0.6?12:21);
      t.setAttribute('text-anchor',s>0?'start':'end');
      y=Math.abs(c)<0.01?20:(c<0?c*RADIUS_UNITS+5*(absS>0.6?1:0):c*RADIUS_UNITS+30+12*c);
    }
    t.setAttribute('x',(cx+x*UNIT).toFixed(1));
    t.setAttribute('y',(cy+y*UNIT).toFixed(1));
    t.textContent=tickLabels[k];
  });
  const tag=make('text',g);
  
  
  tag.setAttribute('font-size','42');
  tag.setAttribute('x',(cx-175).toFixed(1));
  tag.setAttribute('y',(cy-207.5).toFixed(1));
  tag.textContent='('+letter+')';
});

// ---------- colour bar ----------
const barLeft=319, barTop=1523, barHeight=28, boxWidth=123.46;
const barX=level=>barLeft+boxWidth*(level+6);
const tickX=v=>barX(Math.round(v*10));
const bar=make('g',figure);


levelColors.forEach((col,i)=>{
  const r=make('rect',bar);
  
  
  r.setAttribute('x',barLeft+boxWidth*i);r.setAttribute('y',barTop);
  r.setAttribute('width',boxWidth+0.5);r.setAttribute('height',barHeight);
  r.setAttribute('fill',col);
});
colorbarTicks.forEach((v,i)=>{
  const t=make('text',bar);
  
  
  t.setAttribute('x',tickX(v));t.setAttribute('y','1591');
  t.setAttribute('font-size','44');t.setAttribute('text-anchor','middle');
  t.textContent=colorbarLabels[i];
});
</script>
</body>
</html>
